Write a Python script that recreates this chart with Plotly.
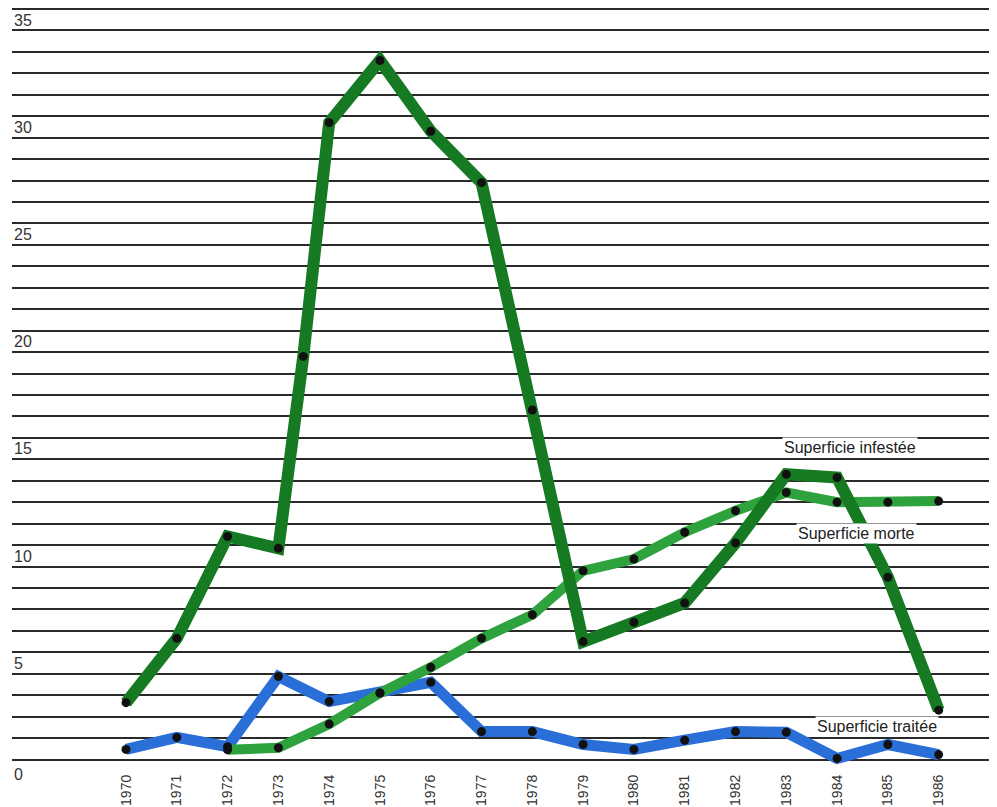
import plotly.graph_objects as go

# ---- data ----
years = list(range(1970, 1987))
year_labels = [str(y) for y in years]

# Superficie infestée (with one extra drawn point on the 1973-1974 segment)
infestee_years = [1970, 1971, 1972, 1973, 1973.49, 1974, 1975, 1976, 1977, 1978,
                  1979, 1980, 1981, 1982, 1983, 1984, 1985, 1986]
infestee = [2.65, 5.65, 10.4, 9.85, 18.8, 29.7, 32.6, 29.3, 26.9, 16.3,
            5.5, 6.4, 7.3, 10.1, 13.3, 13.15, 8.5, 2.3]

# Superficie morte (starts 1972)
morte_years = list(range(1972, 1987))
morte = [0.45, 0.55, 1.65, 3.1, 4.3, 5.65, 6.75, 8.8, 9.35, 10.6, 11.6,
         12.45, 12.0, 12.0, 12.05]

# Superficie traitée
traitee = [0.47, 1.03, 0.6, 3.87, 2.7, 3.1, 3.6, 1.3, 1.3, 0.7, 0.47,
           0.9, 1.3, 1.27, 0.05, 0.7, 0.23]

y_tick_vals = [0, 5, 10, 15, 20, 25, 30, 35]

series_labels = [
    ("Superficie infestée", 1984.25, 14.53),
    ("Superficie morte", 1984.39, 10.56),
    ("Superficie traitée", 1984.79, 1.56),
]

# ---- styles ----
C_INF = "#157a22"
C_MORTE = "#2ea23c"
C_TRAIT = "#2a6fd8"
FONT = "Liberation Sans, Arial, sans-serif"

fig = go.Figure()

fig.add_trace(go.Scatter(x=years, y=traitee, mode="lines",
                         line=dict(color=C_TRAIT, width=11), hoverinfo="skip"))
fig.add_trace(go.Scatter(x=morte_years, y=morte, mode="lines",
                         line=dict(color=C_MORTE, width=10), hoverinfo="skip"))
fig.add_trace(go.Scatter(x=infestee_years, y=infestee, mode="lines",
                         line=dict(color=C_INF, width=12), hoverinfo="skip"))

# black dots on top
for xs, ys in [(years, traitee), (morte_years, morte), (infestee_years, infestee)]:
    fig.add_trace(go.Scatter(x=xs, y=ys, mode="markers",
                             marker=dict(color="#111111", size=9), hoverinfo="skip"))

# y labels placed just below their grid lines
for v in y_tick_vals:
    fig.add_annotation(x=0, xref="paper", y=v, yref="y", text=str(v),
                       showarrow=False, xanchor="left", yanchor="middle",
                       xshift=0, yshift=-11 if v else -15,
                       font=dict(family=FONT, size=16, color="#333333"))

for text, xv, yv in series_labels:
    fig.add_annotation(x=xv, y=yv, text=text, showarrow=False,
                       bgcolor="white", borderpad=1,
                       font=dict(family=FONT, size=16, color="#222222"))

fig.update_layout(
    width=997, height=807,
    margin=dict(l=4, r=0, t=0, b=50),
    paper_bgcolor="white", plot_bgcolor="white",
    showlegend=False,
    xaxis=dict(range=[1967.7555, 1987.306], tickvals=years, ticktext=year_labels,
               tickangle=-90, showgrid=False, zeroline=False, showline=False,
               ticks="", ticklabelstandoff=6,
               tickfont=dict(family=FONT, size=14, color="#333333")),
    yaxis=dict(range=[-0.2565, 35.047], dtick=1, tick0=0, showgrid=True,
               gridcolor="#2a2a2a", gridwidth=1.7, zeroline=False,
               showticklabels=False, showline=False),
)

fig.write_html("out.html")
